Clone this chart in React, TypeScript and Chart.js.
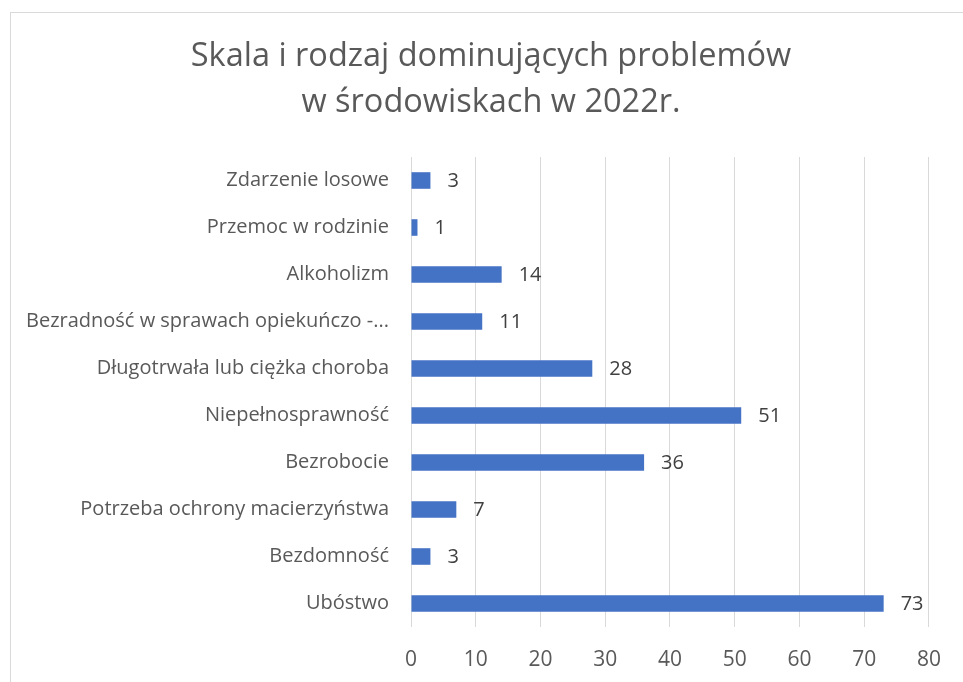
import React, { useEffect, useRef } from "react";
import { Chart, registerables } from "chart.js";

Chart.register(...registerables);

const titleLines = ["Skala i rodzaj dominujących problemów", "w środowiskach w 2022r."];
const categories = [
  "Zdarzenie losowe",
  "Przemoc w rodzinie",
  "Alkoholizm",
  "Bezradność w sprawach opiekuńczo -...",
  "Długotrwała lub ciężka choroba",
  "Niepełnosprawność",
  "Bezrobocie",
  "Potrzeba ochrony macierzyństwa",
  "Bezdomność",
  "Ubóstwo",
];
const values = [3, 1, 14, 11, 28, 51, 36, 7, 3, 73];
const xMin = 0;
const xMax = 80;
const xStep = 10;

const FONT = "'Open Sans', sans-serif";

const dataLabels = {
  id: "dataLabels",
  afterDatasetsDraw(chart: any) {
    const ctx = chart.ctx;
    const meta = chart.getDatasetMeta(0);
    ctx.save();
    ctx.font = `20px ${FONT}`;
    ctx.fillStyle = "#404040";
    ctx.textAlign = "left";
    ctx.textBaseline = "middle";
    meta.data.forEach((el: any, i: number) => {
      ctx.fillText(String(values[i]), el.x + 17, el.y + 1);
    });
    ctx.restore();
  },
};

const titlePlugin = {
  id: "customTitle",
  afterDraw(chart: any) {
    const ctx = chart.ctx;
    ctx.save();
    ctx.font = `32.5px ${FONT}`;
    ctx.fillStyle = "#595959";
    ctx.textAlign = "center";
    ctx.textBaseline = "middle";
    titleLines.forEach((line, i) => {
      ctx.fillText(line, 480, 44 + i * 46);
    });
    ctx.restore();
  },
};

export default function App() {
  const ref = useRef<HTMLCanvasElement | null>(null);
  useEffect(() => {
    if (!ref.current) return;
    const chart = new Chart(ref.current, {
      type: "bar",
      data: {
        labels: categories,
        datasets: [
          {
            data: values,
            backgroundColor: "#4472C4",
            barPercentage: 0.72,
            categoryPercentage: 0.49,
          },
        ],
      },
      options: {
        indexAxis: "y",
        animation: false,
        responsive: false,
        maintainAspectRatio: false,
        layout: { padding: { left: 0, right: 20, top: 144, bottom: 0 } },
        plugins: {
          legend: { display: false },
          tooltip: { enabled: false },
          title: { display: false },
        },
        scales: {
          x: {
            min: xMin,
            max: xMax,
            afterFit(scale: any) {
              scale.height = 55;
            },
            ticks: {
              stepSize: xStep,
              color: "#595959",
              font: { family: FONT, size: 21 },
              padding: 20,
            },
            grid: { color: "#d9d9d9", lineWidth: 1, drawTicks: false },
            border: { display: false },
          },
          y: {
            afterFit(scale: any) {
              scale.width = 400;
            },
            ticks: {
              color: "#595959",
              font: { family: FONT, size: 20 },
              padding: 22,
            },
            grid: { display: false, drawTicks: false },
            border: { display: false },
          },
        },
      },
      plugins: [dataLabels, titlePlugin],
    });
    return () => chart.destroy();
  }, []);
  return (
    <div style={{ position: "fixed", inset: 0, overflow: "hidden", background: "#fff" }}>
      <div
        style={{
          position: "absolute",
          left: 10,
          top: 12,
          width: 970,
          height: 700,
          border: "1px solid #d9d9d9",
          boxSizing: "border-box",
        }}
      >
        <canvas ref={ref} width={950} height={669} style={{ display: "block" }} />
      </div>
    </div>
  );
}
